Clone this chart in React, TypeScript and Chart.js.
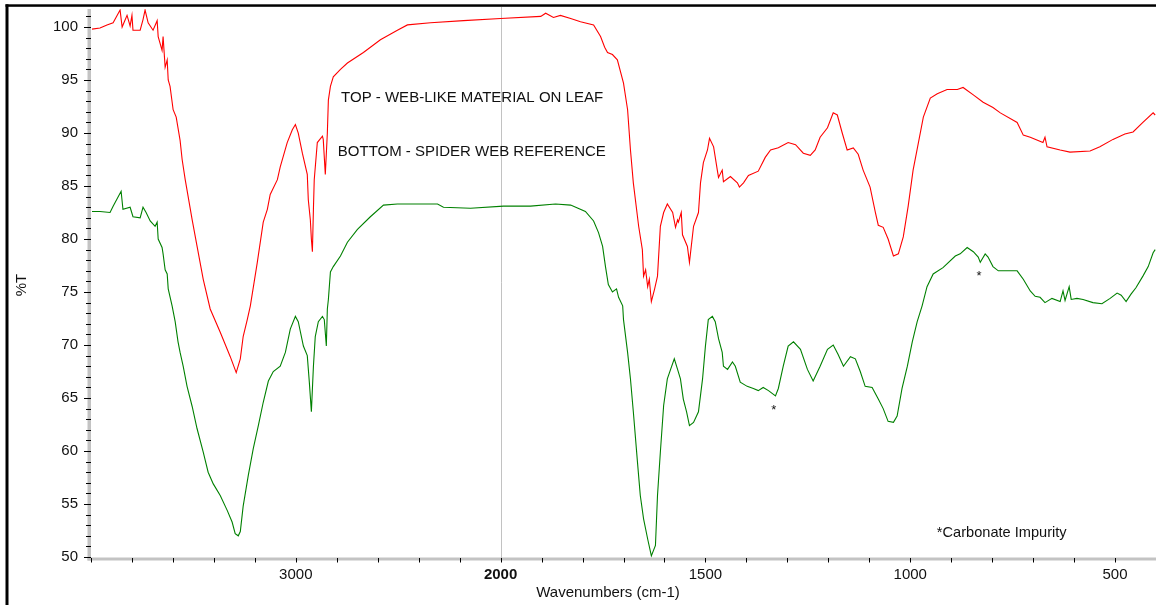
import React, { useEffect, useRef } from 'react';
import { Chart, registerables } from 'chart.js';

Chart.register(...registerables);

const FONT = '"Liberation Sans", Arial, Helvetica, sans-serif';

// Wavenumber axis (cm-1) with OMNIC-style 2x compression above 2000 cm-1
const WAVENUMBER_MAX = 4000;
const WAVENUMBER_BREAK = 2000;
const WAVENUMBER_MIN = 400;
const HIGH_COMPRESSION = 2;

const X_TICK_LABELS = [3000, 2000, 1500, 1000, 500];
const X_BOLD_LABEL = 2000;
const Y_TICK_LABELS = [50, 55, 60, 65, 70, 75, 80, 85, 90, 95, 100];
const Y_MIN = 49.86;
const Y_MAX = 101.7;

// TOP - web-like material on leaf (red)
const TOP_WAVENUMBERS = [
  3995, 3956, 3922, 3892, 3858, 3848, 3824, 3809, 3800, 3795,
  3760, 3746, 3736, 3721, 3697, 3677, 3672, 3653, 3648, 3638,
  3628, 3623, 3614, 3599, 3584, 3565, 3555, 3540, 3506, 3482,
  3452, 3418, 3369, 3320, 3291, 3271, 3257, 3237, 3222, 3188,
  3159, 3139, 3125, 3090, 3076, 3042, 3017, 3002, 2988, 2968,
  2944, 2939, 2929, 2924, 2919, 2914, 2910, 2895, 2870, 2866,
  2856, 2846, 2841, 2831, 2817, 2782, 2748, 2670, 2587, 2504,
  2455, 2342, 2181, 2000, 1902, 1890, 1871, 1854, 1829, 1805,
  1773, 1756, 1746, 1739, 1727, 1715, 1700, 1690, 1683, 1676,
  1663, 1654, 1651, 1646, 1641, 1637, 1632, 1624, 1617, 1610,
  1602, 1593, 1580, 1573, 1568, 1566, 1559, 1556, 1544, 1539,
  1529, 1517, 1512, 1505, 1495, 1490, 1480, 1471, 1468, 1459,
  1456, 1439, 1422, 1417, 1407, 1395, 1371, 1354, 1341, 1322,
  1298, 1280, 1261, 1244, 1232, 1220, 1202, 1188, 1178, 1166,
  1154, 1139, 1127, 1115, 1098, 1085, 1078, 1066, 1054, 1041,
  1029, 1017, 1005, 993, 980, 968, 951, 934, 910, 885,
  871, 846, 822, 798, 780, 739, 724, 707, 676, 671,
  666, 634, 610, 561, 537, 505, 476, 456, 432, 407,
  402,
];
const TOP_TRANSMITTANCE = [
  99.8, 99.9, 100.2, 100.4, 101.6, 100.0, 101.1, 100.1, 101.1, 99.7,
  99.7, 100.7, 101.6, 100.4, 99.7, 100.6, 99.1, 97.8, 99.1, 96.2,
  96.9, 95.0, 94.4, 92.2, 91.5, 89.3, 87.5, 85.6, 81.8, 79.3,
  76.2, 73.4, 71.2, 68.9, 67.4, 68.7, 70.8, 72.4, 73.7, 77.8,
  81.6, 82.8, 84.2, 85.6, 86.8, 89.1, 90.3, 90.8, 90.0, 88.1,
  86.1, 83.7, 81.8, 80.0, 78.8, 82.8, 85.6, 89.1, 89.7, 89.4,
  86.1, 90.0, 93.1, 94.4, 95.3, 96.0, 96.6, 97.6, 98.8, 99.7,
  100.2, 100.4, 100.6, 100.8, 101.0, 101.3, 100.9, 101.1, 100.8, 100.5,
  100.2, 99.1, 98.1, 97.6, 97.4, 96.9, 94.7, 92.2, 88.4, 85.3,
  81.2, 79.0, 76.5, 77.1, 75.5, 76.2, 74.1, 75.3, 76.5, 81.2,
  82.5, 83.3, 82.5, 81.1, 81.8, 81.6, 82.5, 80.4, 79.3, 77.8,
  81.2, 82.5, 85.3, 87.2, 88.4, 89.5, 88.7, 86.5, 85.8, 86.5,
  85.4, 85.9, 85.3, 84.9, 85.3, 86.0, 86.4, 87.7, 88.4, 88.6,
  89.1, 88.9, 88.1, 87.9, 88.4, 89.6, 90.5, 91.9, 91.7, 90.0,
  88.4, 88.6, 88.0, 86.5, 84.9, 82.5, 81.3, 81.1, 80.0, 78.4,
  78.6, 80.2, 83.1, 86.5, 89.1, 91.5, 93.3, 93.7, 94.1, 94.1,
  94.3, 93.6, 92.9, 92.4, 91.9, 91.0, 89.8, 89.6, 89.1, 89.6,
  88.7, 88.4, 88.2, 88.3, 88.7, 89.4, 89.9, 90.1, 91.0, 91.9,
  91.7,
];

// BOTTOM - spider web reference (green)
const BOTTOM_WAVENUMBERS = [
  3995, 3956, 3907, 3892, 3853, 3844, 3809, 3795, 3760, 3746,
  3731, 3711, 3687, 3677, 3672, 3653, 3648, 3638, 3628, 3623,
  3604, 3589, 3575, 3565, 3550, 3531, 3506, 3482, 3452, 3428,
  3403, 3369, 3335, 3311, 3296, 3281, 3271, 3257, 3232, 3208,
  3183, 3159, 3134, 3110, 3076, 3051, 3027, 3002, 2988, 2963,
  2944, 2934, 2924, 2914, 2905, 2890, 2870, 2861, 2851, 2846,
  2841, 2831, 2817, 2782, 2748, 2699, 2636, 2572, 2504, 2406,
  2308, 2279, 2147, 1993, 1927, 1866, 1829, 1793, 1773, 1761,
  1751, 1744, 1737, 1727, 1717, 1712, 1702, 1700, 1690, 1683,
  1676, 1666, 1659, 1651, 1641, 1632, 1622, 1617, 1610, 1602,
  1593, 1585, 1576, 1568, 1561, 1554, 1546, 1539, 1529, 1517,
  1507, 1500, 1493, 1483, 1476, 1468, 1459, 1456, 1446, 1434,
  1427, 1415, 1398, 1383, 1371, 1359, 1346, 1329, 1322, 1310,
  1298, 1285, 1268, 1251, 1237, 1220, 1202, 1188, 1176, 1163,
  1146, 1134, 1122, 1110, 1093, 1078, 1066, 1054, 1041, 1032,
  1020, 1007, 995, 983, 971, 959, 944, 920, 890, 878,
  861, 846, 834, 829, 817, 810, 798, 785, 768, 739,
  724, 707, 695, 683, 671, 654, 634, 627, 622, 612,
  607, 593, 578, 554, 532, 512, 495, 485, 473, 461,
  449, 432, 419, 407, 402,
];
const BOTTOM_TRANSMITTANCE = [
  82.6, 82.6, 82.5, 83.1, 84.5, 82.8, 83.0, 82.1, 82.0, 83.0,
  82.5, 81.7, 81.2, 81.6, 80.0, 79.2, 78.6, 77.1, 76.7, 75.3,
  73.7, 72.2, 70.3, 69.3, 68.0, 66.1, 64.2, 62.1, 59.9, 58.0,
  56.9, 55.8, 54.4, 53.3, 52.2, 52.0, 52.4, 54.8, 57.7, 60.2,
  62.4, 64.6, 66.6, 67.5, 68.0, 69.3, 71.5, 72.7, 72.2, 69.9,
  69.0, 66.5, 63.7, 68.0, 70.8, 72.2, 72.7, 72.4, 69.9, 73.4,
  74.3, 76.9, 77.4, 78.4, 79.7, 80.9, 82.1, 83.2, 83.3, 83.3,
  83.3, 83.0, 82.9, 83.1, 83.1, 83.3, 83.2, 82.6, 81.7, 80.6,
  79.3, 77.4, 75.7, 75.0, 75.3, 74.5, 73.7, 72.4, 69.3, 66.8,
  63.7, 59.0, 55.8, 53.6, 51.7, 50.1, 51.1, 55.8, 59.9, 64.3,
  66.8, 67.7, 68.7, 67.7, 66.8, 64.9, 63.7, 62.4, 62.7, 63.7,
  66.8, 69.9, 72.4, 72.7, 72.2, 70.6, 69.3, 68.0, 67.7, 68.4,
  68.0, 66.5, 66.1, 65.9, 65.7, 66.0, 65.7, 65.2, 65.9, 68.0,
  69.9, 70.3, 69.6, 67.7, 66.6, 68.0, 69.6, 70.0, 69.1, 68.0,
  68.9, 68.7, 67.5, 66.1, 66.0, 64.9, 64.0, 62.8, 62.7, 63.3,
  65.9, 68.0, 70.3, 72.2, 73.7, 75.5, 76.7, 77.3, 78.4, 78.6,
  79.2, 78.8, 78.3, 77.8, 78.6, 78.3, 77.4, 77.0, 77.0, 77.0,
  76.2, 75.1, 74.6, 74.5, 74.0, 74.4, 74.1, 75.1, 74.2, 75.5,
  74.3, 74.4, 74.3, 74.0, 73.9, 74.4, 74.9, 74.7, 74.1, 74.8,
  75.4, 76.5, 77.4, 78.7, 79.0,
];

// Text notes anchored at (wavenumber, %T) — left edge / baseline
const NOTE_TEXTS = [
  'TOP - WEB-LIKE MATERIAL ON LEAF',
  'BOTTOM - SPIDER WEB REFERENCE',
  '*Carbonate Impurity',
];
const NOTE_WAVENUMBERS = [2779, 2795, 935];
const NOTE_TRANSMITTANCE = [92.92, 87.86, 51.93];
// Carbonate asterisks (centre x, baseline y)
const STAR_WAVENUMBERS = [1333, 832];
const STAR_TRANSMITTANCE = [63.5, 76.1];

const X_TITLE = 'Wavenumbers (cm-1)';
const Y_TITLE = '%T';

const HIGH_SPAN = (WAVENUMBER_MAX - WAVENUMBER_BREAK) / HIGH_COMPRESSION;
function toAxis(w: number): number {
  return w >= WAVENUMBER_BREAK ? (WAVENUMBER_MAX - w) / HIGH_COMPRESSION : HIGH_SPAN + (WAVENUMBER_BREAK - w);
}
function fromAxis(u: number): number {
  return u <= HIGH_SPAN ? WAVENUMBER_MAX - u * HIGH_COMPRESSION : WAVENUMBER_BREAK - (u - HIGH_SPAN);
}
const AXIS_END = toAxis(WAVENUMBER_MIN);

const CANVAS_W = 1156;
const CANVAS_H = 605;

function zeroPadding(scale: any) {
  scale.paddingLeft = 0;
  scale.paddingRight = 0;
  scale.paddingTop = 0;
  scale.paddingBottom = 0;
}

const spectrumDecor = {
  id: 'spectrumDecor',
  beforeDatasetsDraw(chart: any) {
    const { ctx, chartArea, scales } = chart;
    const bx = Math.round(scales.x.getPixelForValue(toAxis(WAVENUMBER_BREAK))) + 0.5;
    ctx.save();
    ctx.strokeStyle = '#c2c2c2';
    ctx.lineWidth = 1;
    ctx.beginPath();
    ctx.moveTo(bx, chartArea.top - 2);
    ctx.lineTo(bx, chartArea.bottom);
    ctx.stroke();
    ctx.restore();
  },
  afterDraw(chart: any) {
    const { ctx, chartArea, scales } = chart;
    const { left, right, top, bottom } = chartArea;
    const xs = scales.x;
    const ys = scales.y;
    ctx.save();
    // grey axis bands
    ctx.fillStyle = '#c3c3c3';
    ctx.fillRect(left - 3.5, top, 3.5, bottom - top + 2);
    ctx.fillRect(left - 3.5, bottom - 1, right - left + 4, 3);
    // y ticks
    ctx.strokeStyle = '#000';
    ctx.lineWidth = 1;
    ctx.beginPath();
    for (let v = Math.ceil(Y_MIN); v <= Math.floor(Y_MAX); v++) {
      const py = Math.round(ys.getPixelForValue(v)) + 0.5;
      const len = Y_TICK_LABELS.includes(v) ? 7 : 5;
      ctx.moveTo(left - len, py);
      ctx.lineTo(left, py);
    }
    // x ticks
    for (let u = 0; u <= AXIS_END; u += 100) {
      const px = Math.round(xs.getPixelForValue(u)) + 0.5;
      ctx.moveTo(px, bottom - 0.5);
      ctx.lineTo(px, bottom + 4);
    }
    ctx.stroke();

    // outer frame (left and top)
    ctx.fillStyle = '#000';
    ctx.fillRect(5.5, 4.3, 3, CANVAS_H);
    ctx.fillRect(5.5, 4.3, CANVAS_W, 2.5);

    // axis titles
    ctx.fillStyle = '#111';
    ctx.font = `15px ${FONT}`;
    ctx.textAlign = 'center';
    ctx.textBaseline = 'middle';
    ctx.fillText(X_TITLE, 608, 593);
    ctx.save();
    ctx.translate(22, 285);
    ctx.rotate(-Math.PI / 2);
    ctx.fillText(Y_TITLE, 0, 0);
    ctx.restore();

    // notes
    ctx.textAlign = 'left';
    ctx.textBaseline = 'alphabetic';
    NOTE_TEXTS.forEach((t, i) => {
      ctx.font = `${i === 2 ? 14.6 : 15}px ${FONT}`;
      const px = xs.getPixelForValue(toAxis(NOTE_WAVENUMBERS[i]));
      const py = ys.getPixelForValue(NOTE_TRANSMITTANCE[i]);
      ctx.fillText(t, px, py);
    });
    ctx.font = `13px ${FONT}`;
    ctx.textAlign = 'center';
    STAR_WAVENUMBERS.forEach((w, i) => {
      ctx.fillText('*', xs.getPixelForValue(toAxis(w)), ys.getPixelForValue(STAR_TRANSMITTANCE[i]));
    });
    ctx.restore();
  },
};

export default function App() {
  const canvasRef = useRef<HTMLCanvasElement>(null);
  useEffect(() => {
    const canvas = canvasRef.current;
    if (!canvas) return;
    const chart = new Chart(canvas, {
      type: 'line',
      data: {
        datasets: [
          {
            label: 'TOP - WEB-LIKE MATERIAL ON LEAF',
            data: TOP_WAVENUMBERS.map((w, i) => ({ x: toAxis(w), y: TOP_TRANSMITTANCE[i] })),
            borderColor: '#ff0000',
            borderWidth: 1.1,
            pointRadius: 0,
            tension: 0,
            fill: false,
          },
          {
            label: 'BOTTOM - SPIDER WEB REFERENCE',
            data: BOTTOM_WAVENUMBERS.map((w, i) => ({ x: toAxis(w), y: BOTTOM_TRANSMITTANCE[i] })),
            borderColor: '#008000',
            borderWidth: 1.1,
            pointRadius: 0,
            tension: 0,
            fill: false,
          },
        ],
      },
      options: {
        responsive: false,
        animation: false,
        devicePixelRatio: 1,
        layout: { padding: { top: 9, right: 0, left: 0, bottom: 0 } },
        plugins: { legend: { display: false }, tooltip: { enabled: false } },
        scales: {
          x: {
            type: 'linear',
            min: 0,
            max: AXIS_END,
            afterBuildTicks: (scale: any) => {
              const ticks = [];
              for (let u = 0; u <= AXIS_END; u += 100) ticks.push({ value: u });
              scale.ticks = ticks;
            },
            afterFit: (scale: any) => {
              scale.height = 46.5;
              zeroPadding(scale);
            },
            grid: { display: false, drawTicks: true, tickLength: 4 },
            border: { display: false },
            ticks: {
              autoSkip: false,
              maxRotation: 0,
              minRotation: 0,
              padding: 3,
              color: '#111',
              font: (ctx: any) => ({
                family: FONT,
                size: 15,
                weight: ctx.tick && Math.round(fromAxis(ctx.tick.value)) === X_BOLD_LABEL ? 'bold' : 'normal',
              }),
              callback: (value: any) => {
                const w = Math.round(fromAxis(Number(value)));
                return X_TICK_LABELS.includes(w) ? String(w) : '';
              },
            },
          },
          y: {
            type: 'linear',
            min: Y_MIN,
            max: Y_MAX,
            afterBuildTicks: (scale: any) => {
              scale.ticks = Y_TICK_LABELS.map((v) => ({ value: v }));
            },
            afterFit: (scale: any) => {
              scale.width = 91;
              zeroPadding(scale);
            },
            grid: { display: false, drawTicks: true, tickLength: 8 },
            border: { display: false },
            ticks: {
              autoSkip: false,
              padding: 5,
              color: '#111',
              font: { family: FONT, size: 15 },
              callback: (value: any) => String(value),
            },
          },
        },
      },
      plugins: [spectrumDecor],
    } as any);
    return () => chart.destroy();
  }, []);

  return (
    <div style={{ position: 'absolute', left: 0, top: 0, width: CANVAS_W, height: CANVAS_H, background: '#fff' }}>
      <canvas ref={canvasRef} width={CANVAS_W} height={CANVAS_H} style={{ display: 'block', width: CANVAS_W, height: CANVAS_H }} />
    </div>
  );
}
